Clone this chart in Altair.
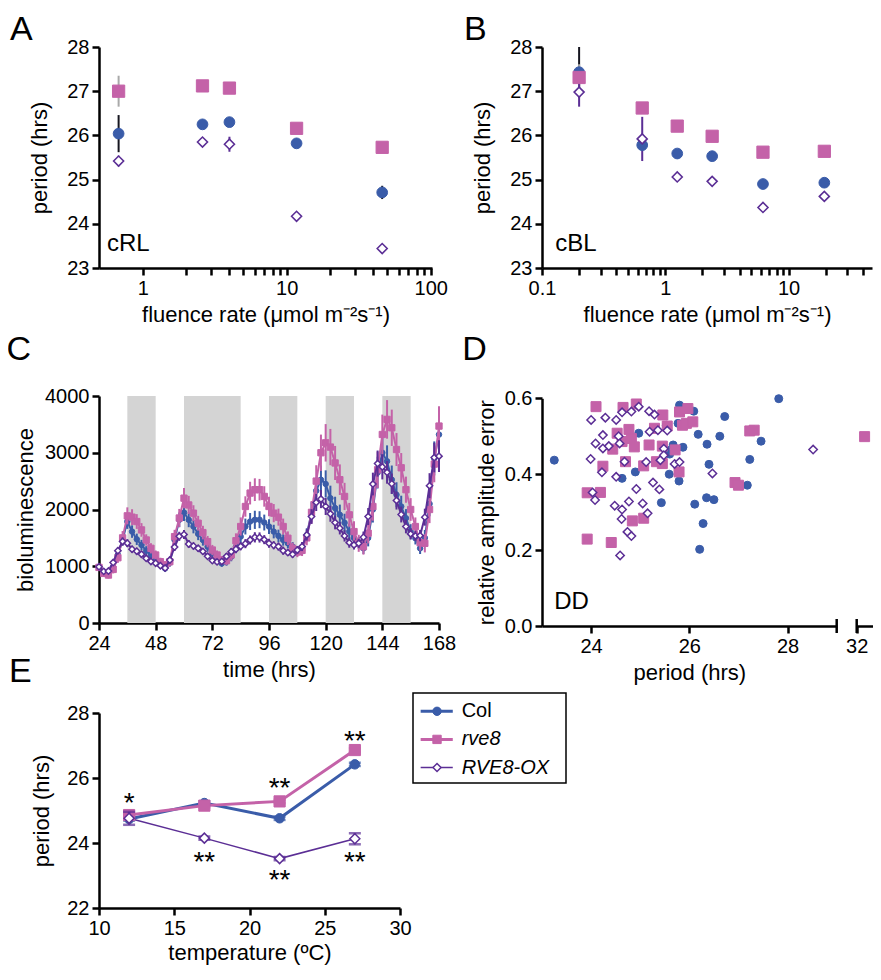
import altair as alt
import pandas as pd

FONT = "Liberation Sans"
BLUE = "#3a5ca9"
PINK = "#c462a8"
PURPLE = "#5b2e95"
BAND = "#d4d4d4"
SERIES = ["Col", "rve8", "RVE8-OX"]

# ---------------- Panel A : cRL ----------------
a_fluence = [0.68, 2.6, 4.0, 11.7, 46]
a_col = [26.04, 26.25, 26.30, 25.82, 24.71]
a_col_err = [0.42, 0.05, 0.05, 0.05, 0.15]
a_rve8 = [27.00, 27.12, 27.07, 26.16, 25.73]
a_rve8_err = [0.35, 0.10, 0.05, 0.05, 0.05]
a_ox = [25.42, 25.85, 25.80, 24.17, 23.44]
a_ox_err = [0.12, 0.05, 0.17, 0.05, 0.05]
a_ticks = [1, 2, 3, 4, 5, 6, 7, 8, 9, 10, 20, 30, 40, 50, 60, 70, 80, 90, 100]

# ---------------- Panel B : cBL ----------------
b_fluence = [0.2, 0.65, 1.25, 2.4, 6.2, 19.5]
b_col = [27.43, 25.78, 25.59, 25.53, 24.90, 24.93]
b_col_err = [0.57, 0.10, 0.05, 0.05, 0.05, 0.05]
b_rve8 = [27.31, 26.62, 26.21, 25.98, 25.62, 25.64]
b_rve8_err = [0.30, 0.05, 0.05, 0.05, 0.05, 0.05]
b_ox = [26.98, 25.92, 25.06, 24.96, 24.37, 24.62]
b_ox_err = [0.33, 0.50, 0.05, 0.05, 0.05, 0.05]
b_ticks = [0.1, 0.2, 0.3, 0.4, 0.5, 0.6, 0.7, 0.8, 0.9, 1, 2, 3, 4, 5, 6, 7, 8, 9,
           10, 20, 30, 40]
period_ticks = [23, 24, 25, 26, 27, 28]

# ---------------- Panel C : bioluminescence time course ----------------
c_time = list(range(24, 169, 2))
c_col = [980, 903, 885, 991, 1200, 1463, 1788, 1611, 1475, 1375, 1274, 1198,
         1109, 1038, 962, 1062, 1463, 1818, 1947, 1818, 1700, 1570, 1463, 1345,
         1227, 1139, 1050, 1080, 1168, 1345, 1522, 1700, 1788, 1818, 1820, 1770,
         1700, 1611, 1535, 1463, 1404, 1345, 1257, 1286, 1550, 1950, 2330, 2525,
         2450, 2200, 2025, 1906, 1765, 1611, 1500, 1404, 1316, 1500, 2000, 2650,
         3000, 2850, 2525, 2260, 2053, 1847, 1611, 1494, 1316, 1500, 2100, 2900,
         3320]
c_col_err = [50, 50, 50, 60, 80, 100, 130, 110, 100, 90, 80, 70,
             60, 60, 60, 70, 100, 130, 150, 130, 120, 110, 100, 90,
             80, 70, 60, 70, 80, 100, 120, 140, 150, 160, 150, 140,
             130, 120, 110, 100, 90, 80, 80, 90, 120, 180, 230, 250,
             240, 220, 200, 180, 160, 140, 120, 100, 100, 150, 230, 280,
             300, 280, 250, 220, 190, 160, 130, 110, 100, 140, 220, 300,
             320]
c_rve8 = [980, 874, 845, 944, 1150, 1500, 1888, 1865, 1788, 1640, 1463, 1316,
          1198, 1080, 1020, 1080, 1522, 1850, 2200, 2080, 1935, 1758, 1593, 1434,
          1286, 1198, 1109, 1100, 1200, 1450, 1700, 2053, 2289, 2349, 2349, 2230,
          2053, 1936, 1865, 1700, 1494, 1316, 1250, 1280, 1500, 1950, 2500, 3000,
          3175, 3100, 2820, 2525, 2230, 1906, 1611, 1404, 1345, 1582, 2053, 2700,
          3322, 3588, 3440, 3057, 2735, 2349, 2000, 1700, 1416, 1404, 2000, 2800,
          3470]
c_rve8_err = [60, 60, 60, 70, 90, 120, 150, 140, 130, 120, 100, 90,
              80, 70, 70, 80, 120, 160, 180, 160, 140, 130, 120, 100,
              90, 80, 70, 80, 100, 130, 160, 180, 200, 200, 190, 180,
              170, 160, 150, 140, 120, 100, 90, 100, 130, 200, 280, 320,
              330, 320, 300, 270, 240, 210, 180, 150, 140, 180, 250, 320,
              350, 340, 320, 290, 260, 230, 200, 160, 140, 160, 240, 320,
              350]
c_ox = [991, 910, 915, 1065, 1274, 1437, 1407, 1301, 1265, 1212, 1140, 1085,
        1053, 1010, 968, 1109, 1339, 1528, 1560, 1392, 1357, 1316, 1262, 1175,
        1100, 1077, 1085, 1174, 1257, 1301, 1351, 1398, 1463, 1510, 1507, 1469,
        1405, 1370, 1347, 1274, 1240, 1210, 1286, 1347, 1552, 1876, 2124, 2184,
        2053, 1924, 1770, 1670, 1535, 1416, 1375, 1404, 1511, 1876, 2449, 2809,
        2750, 2655, 2455, 2159, 1912, 1700, 1570, 1535, 1540, 1865, 2420, 2915,
        2940]
c_ox_err = [40, 40, 40, 50, 60, 70, 70, 60, 60, 60, 50, 50,
            50, 50, 50, 60, 70, 80, 80, 70, 60, 60, 60, 50,
            50, 50, 50, 60, 60, 70, 70, 80, 80, 90, 90, 80,
            80, 70, 70, 70, 60, 60, 70, 80, 100, 130, 150, 160,
            150, 140, 120, 110, 100, 90, 80, 80, 100, 150, 200, 230,
            220, 200, 180, 160, 140, 120, 100, 90, 100, 150, 220, 260,
            280]
dark_start = [36, 60, 96, 120, 144]
dark_end = [48, 84, 108, 132, 156]
c_xticks = [24, 48, 72, 96, 120, 144, 168]
c_yticks = [0, 1000, 2000, 3000, 4000]

# ---------------- Panel D : DD period vs RAE ----------------
d_col_period = [23.25, 24.63, 24.90, 24.97, 25.43, 25.52, 25.53, 25.59, 25.60, 25.67,
                25.77, 25.79, 25.80, 25.87, 26.09, 26.11, 26.18, 26.21, 26.28, 26.35,
                26.36, 26.40, 26.50, 26.62, 26.72, 27.18, 27.23, 27.46, 27.82]
d_col_rae = [0.437, 0.389, 0.406, 0.508, 0.325, 0.465, 0.529, 0.400, 0.453, 0.477,
             0.534, 0.382, 0.582, 0.471, 0.566, 0.321, 0.505, 0.202, 0.270, 0.338,
             0.479, 0.426, 0.333, 0.500, 0.552, 0.371, 0.439, 0.487, 0.599]
d_rve8_period = [23.92, 23.92, 24.10, 24.19, 24.24, 24.41, 24.44, 24.53, 24.63, 24.65,
                 24.70, 24.77, 24.82, 24.84, 24.88, 24.92, 25.07, 25.07, 25.18, 25.29,
                 25.33, 25.45, 25.45, 25.46, 25.55, 25.71, 25.79, 25.80, 25.86, 25.94,
                 25.97, 26.07, 26.93, 27.00, 27.23, 27.32, 32.16]
d_rve8_rae = [0.351, 0.229, 0.578, 0.352, 0.421, 0.220, 0.466, 0.508, 0.486, 0.576,
              0.433, 0.518, 0.494, 0.277, 0.472, 0.585, 0.284, 0.422, 0.477, 0.521,
              0.433, 0.428, 0.474, 0.556, 0.527, 0.464, 0.406, 0.564, 0.529, 0.534,
              0.573, 0.538, 0.378, 0.371, 0.514, 0.516, 0.499]
d_ox_period = [23.99, 24.00, 24.03, 24.08, 24.09, 24.22, 24.24, 24.24, 24.29, 24.36,
               24.48, 24.51, 24.51, 24.56, 24.58, 24.59, 24.62, 24.63, 24.63, 24.68,
               24.74, 24.77, 24.82, 24.82, 24.92, 24.97, 25.05, 25.12, 25.15, 25.18,
               25.19, 25.26, 25.29, 25.36, 25.39, 25.41, 25.48, 25.48, 25.55, 25.70,
               25.80, 26.47, 28.52]
d_ox_rae = [0.440, 0.543, 0.352, 0.332, 0.481, 0.405, 0.503, 0.468, 0.549, 0.474,
            0.317, 0.543, 0.393, 0.500, 0.481, 0.186, 0.282, 0.563, 0.307, 0.433,
            0.248, 0.328, 0.565, 0.237, 0.361, 0.578, 0.323, 0.432, 0.297, 0.566,
            0.512, 0.378, 0.557, 0.516, 0.360, 0.437, 0.467, 0.450, 0.515, 0.427,
            0.432, 0.402, 0.465]

# ---------------- Panel E : temperature ----------------
e_temp = [12, 17, 22, 27]
e_col = [24.74, 25.23, 24.76, 26.42]
e_col_err = [0.05, 0.05, 0.05, 0.05]
e_rve8 = [24.86, 25.15, 25.28, 26.86]
e_rve8_err = [0.05, 0.05, 0.05, 0.05]
e_ox = [24.76, 24.15, 23.52, 24.13]
e_ox_err = [0.20, 0.05, 0.05, 0.17]
e_star_x = [12, 17, 22, 22, 27, 27]
e_star_y = [25.44, 23.64, 25.92, 23.08, 27.35, 23.64]
e_star_txt = ["*", "**", "**", "**", "**", "**"]

STYLE = {
    "Col": dict(shape="circle", fill=BLUE, stroke=BLUE, line=BLUE, err="#15151f"),
    "rve8": dict(shape="square", fill=PINK, stroke=PINK, line=PINK, err="#a9a9a9"),
    "RVE8-OX": dict(shape="diamond", fill="white", stroke=PURPLE, line=PURPLE, err=PURPLE),
}


def long_df(x, groups, xname="x", yname="y"):
    rows = []
    for name, vals, errs in groups:
        for xi, v, e in zip(x, vals, errs):
            rows.append({"s": name, xname: xi, yname: v, "lo": v - e, "hi": v + e})
    return pd.DataFrame(rows)


def letter(ch, dx, dy):
    return alt.Chart(pd.DataFrame({"t": [ch]})).mark_text(
        fontSize=34, align="left", baseline="alphabetic", color="black"
    ).encode(text="t:N", x=alt.value(dx), y=alt.value(dy))


def points(df, s, X, Y, size, sw):
    st = STYLE[s]
    return alt.Chart(df).transform_filter(alt.datum.s == s).mark_point(
        shape=st["shape"], filled=True, fill=st["fill"], stroke=st["stroke"],
        strokeWidth=sw, size=size, opacity=1
    ).encode(x=X, y=Y)


def errs(df, s, X, Ylo, color, sw):
    return alt.Chart(df).transform_filter(alt.datum.s == s).mark_rule(
        color=color, strokeWidth=sw
    ).encode(x=X, y=Ylo, y2="hi:Q")


# ---------- build A / B ----------
def fluence_panel(x, groups, dom, ticks, main_ticks, label, tag_x, let, let_dx, width):
    df = long_df(x, groups)
    X = alt.X("x:Q", scale=alt.Scale(type="log", domain=dom, nice=False),
              axis=alt.Axis(values=ticks, title="fluence rate (μmol m⁻²s⁻¹)",
                            labelExpr="indexof(%s, datum.value) >= 0 ? format(datum.value, '~g') : ''" % main_ticks))

    def Y(f):
        return alt.Y(f"{f}:Q", scale=alt.Scale(domain=[23, 28], nice=False),
                     axis=alt.Axis(values=period_ticks, title="period (hrs)", titlePadding=15))
    layers = []
    for s in SERIES:
        layers.append(errs(df, s, X, Y("lo"), STYLE[s]["err"], 2))
    sizes = {"Col": 115, "rve8": 150, "RVE8-OX": 100}
    sws = {"Col": 1, "rve8": 1, "RVE8-OX": 1.6}
    for s in SERIES:
        layers.append(points(df, s, X, Y("y"), sizes[s], sws[s]))
    tag = alt.Chart(pd.DataFrame({"t": [label], "x": [tag_x], "y": [23.39]})).mark_text(
        fontSize=24, align="left", baseline="alphabetic", color="black"
    ).encode(text="t:N", x=X, y=Y("y"))
    layers.append(tag)
    layers.append(letter(let, let_dx, -7.5))
    return alt.layer(*layers).properties(width=width, height=221)


A = fluence_panel(a_fluence,
                  [("Col", a_col, a_col_err), ("rve8", a_rve8, a_rve8_err), ("RVE8-OX", a_ox, a_ox_err)],
                  [0.497, 102], a_ticks, "[1, 10, 100]", "cRL", 0.565, "A", -89, 333)
B = fluence_panel(b_fluence,
                  [("Col", b_col, b_col_err), ("rve8", b_rve8, b_rve8_err), ("RVE8-OX", b_ox, b_ox_err)],
                  [0.1, 47.5], b_ticks, "[0.1, 1, 10]", "cBL", 0.128, "B", -78, 330)

# ---------- build C ----------
c_df = long_df(c_time, [("Col", c_col, c_col_err), ("rve8", c_rve8, c_rve8_err),
                        ("RVE8-OX", c_ox, c_ox_err)], xname="t", yname="v")
c_xscale = alt.Scale(domain=[24, 168], nice=False)
c_yscale = alt.Scale(domain=[0, 4000], range=[295, 68], nice=False)
c_xaxis = alt.Axis(values=c_xticks, title="time (hrs)", format="d")
c_yaxis = alt.Axis(values=c_yticks, title="bioluminescence", format="d", titlePadding=7)
CX = alt.X("t:Q", scale=c_xscale, axis=c_xaxis)


def CY(f):
    return alt.Y(f"{f}:Q", scale=c_yscale, axis=c_yaxis)


bands = alt.Chart(pd.DataFrame({"start": dark_start, "end": dark_end})).mark_rect(
    color=BAND).encode(
    x=alt.X("start:Q", scale=c_xscale, axis=c_xaxis),
    x2="end:Q", y=alt.YDatum(0, scale=c_yscale, axis=c_yaxis),
    y2=alt.Y2Datum(4000))
c_layers = [bands]
c_size = {"Col": 30, "rve8": 40, "RVE8-OX": 40}
c_sw = {"Col": 1, "rve8": 1, "RVE8-OX": 1.5}
for s in SERIES:
    st = STYLE[s]
    c_layers.append(errs(c_df, s, CX, CY("lo"), st["line"], 2))
    c_layers.append(alt.Chart(c_df).transform_filter(alt.datum.s == s).mark_line(
        color=st["line"], strokeWidth=2).encode(x=CX, y=CY("v")))
    c_layers.append(points(c_df, s, CX, CY("v"), c_size[s], c_sw[s]))
c_layers.append(letter("C", -92.5, 32))
C = alt.layer(*c_layers).properties(width=340, height=295)

# ---------- build D (broken x axis) ----------
d_rows = []
for name, ps, rs in [("Col", d_col_period, d_col_rae), ("rve8", d_rve8_period, d_rve8_rae),
                     ("RVE8-OX", d_ox_period, d_ox_rae)]:
    for p, r in zip(ps, rs):
        d_rows.append({"s": name, "p": p, "r": r})
d_df = pd.DataFrame(d_rows)
d_main = d_df[d_df.p < 30]
d_far = d_df[d_df.p > 30]
d_yscale = alt.Scale(domain=[0, 0.6], range=[298, 70.3], nice=False)
DY = alt.Y("r:Q", scale=d_yscale,
           axis=alt.Axis(values=[0, 0.2, 0.4, 0.6], format=".1f",
                         title="relative amplitude error", titlePadding=6))
d1_xscale = alt.Scale(domain=[23, 29], range=[0, 294.7], nice=False)
d2_xscale = alt.Scale(domain=[32, 32.33], range=[314.7, 331], nice=False)
d1_axis = alt.Axis(values=[24, 26, 28], title="period (hrs)", format="d")
d2_axis = alt.Axis(values=[32], title=None, orient="bottom", format="d")
DX1 = alt.X("p:Q", scale=d1_xscale, axis=d1_axis)
DX2 = alt.X("p:Q", scale=d2_xscale, axis=d2_axis)
d_size = {"Col": 64, "rve8": 100, "RVE8-OX": 70}
d_sw = {"Col": 1, "rve8": 1, "RVE8-OX": 1.5}
d1_layers = [points(d_main, s, DX1, DY, d_size[s], d_sw[s]) for s in SERIES]
d1_layers.append(alt.Chart(pd.DataFrame({"b": [29]})).mark_rule(color="black", strokeWidth=2.5).encode(
    x=alt.X("b:Q", scale=d1_xscale, axis=d1_axis), y=alt.value(291), y2=alt.value(305)))
d1_layers.append(alt.Chart(pd.DataFrame({"t": ["DD"], "p": [23.25], "r": [0.044]})).mark_text(
    fontSize=24, align="left", baseline="alphabetic", color="black").encode(text="t:N", x=DX1, y=DY))
d1_layers.append(letter("D", -79.8, 32))
D1 = alt.layer(*d1_layers)
d2_layers = [points(d_far, "rve8", DX2, DY, d_size["rve8"], d_sw["rve8"])]
d2_layers.append(alt.Chart(pd.DataFrame({"b": [32]})).mark_rule(color="black", strokeWidth=2.5).encode(
    x=alt.X("b:Q", scale=d2_xscale, axis=d2_axis), y=alt.value(291), y2=alt.value(305)))
D2 = alt.layer(*d2_layers)
D = alt.layer(D1, D2).resolve_scale(x="independent").resolve_axis(x="independent").properties(
    width=331, height=298)

# ---------- build E ----------
e_df = long_df(e_temp, [("Col", e_col, e_col_err), ("rve8", e_rve8, e_rve8_err),
                        ("RVE8-OX", e_ox, e_ox_err)])
e_xscale = alt.Scale(domain=[10, 30], nice=False)
e_yscale = alt.Scale(domain=[22, 28], range=[222, 27], nice=False)
EX = alt.X("x:Q", scale=e_xscale,
           axis=alt.Axis(values=[10, 15, 20, 25, 30], title="temperature (ºC)", titlePadding=4))


def EY(f):
    return alt.Y(f"{f}:Q", scale=e_yscale,
                 axis=alt.Axis(values=[22, 24, 26, 28], title="period (hrs)", titlePadding=13))


e_lw = {"Col": 3, "rve8": 3, "RVE8-OX": 1.5}
e_size = {"Col": 90, "rve8": 125, "RVE8-OX": 100}
e_sw = {"Col": 1, "rve8": 1, "RVE8-OX": 1.5}
e_layers = []
for s in SERIES:
    e_layers.append(alt.Chart(e_df).transform_filter(alt.datum.s == s).mark_line(
        color=STYLE[s]["line"], strokeWidth=e_lw[s]).encode(x=EX, y=EY("y")))
for s in SERIES:
    e_layers.append(alt.Chart(e_df).transform_filter(alt.datum.s == s).mark_errorbar(
        color=STYLE[s]["line"], thickness=2.5, ticks=alt.TickConfig(size=12, thickness=2.5)
    ).encode(x=EX, y=EY("lo"), y2="hi:Q"))
    e_layers.append(points(e_df, s, EX, EY("y"), e_size[s], e_sw[s]))
e_layers.append(alt.Chart(pd.DataFrame({"x": e_star_x, "y": e_star_y, "t": e_star_txt})).mark_text(
    fontSize=28, baseline="alphabetic", dy=16, color="black").encode(x=EX, y=EY("y"), text="t:N"))
e_layers.append(letter("E", -90, -4.3))
E_data = alt.layer(*e_layers)

# legend drawn inside its own scales
leg_df = pd.DataFrame({"s": SERIES, "i": list(range(len(SERIES)))})
lx = alt.Scale(domain=[0, 1], range=[314, 467], nice=False)
ly = alt.Scale(domain=[-0.65, 2.55], range=[7, 97], nice=False)
LY = alt.Y("i:Q", scale=ly, axis=None)
leg_layers = [alt.Chart(pd.DataFrame({"k": [0]})).mark_rect(
    fillOpacity=0, stroke="black", strokeWidth=1.5).encode(
    x=alt.XDatum(0, scale=lx, axis=None), x2=alt.X2Datum(1),
    y=alt.YDatum(-0.65, scale=ly, axis=None), y2=alt.Y2Datum(2.55))]
leg_size = {"Col": 70, "rve8": 70, "RVE8-OX": 64}
for s in SERIES:
    st = STYLE[s]
    sub = alt.Chart(leg_df).transform_filter(alt.datum.s == s)
    leg_layers.append(sub.mark_rule(color=st["line"], strokeWidth=e_lw[s]).encode(
        x=alt.XDatum(0.05, scale=lx, axis=None), x2=alt.X2Datum(0.26), y=LY))
    leg_layers.append(sub.mark_point(shape=st["shape"], filled=True, fill=st["fill"],
                                     stroke=st["stroke"], strokeWidth=e_sw[s],
                                     size=leg_size[s], opacity=1).encode(
        x=alt.XDatum(0.157, scale=lx, axis=None), y=LY))
    leg_layers.append(sub.mark_text(fontSize=20, align="left", baseline="middle", color="black",
                                    fontStyle="normal" if s == "Col" else "italic").encode(
        x=alt.XDatum(0.318, scale=lx, axis=None), y=LY, text="s:N"))
E_leg = alt.layer(*leg_layers)
E = alt.layer(E_data, E_leg).resolve_scale(x="independent", y="independent").properties(
    width=301, height=222)

chart = alt.concat(A, B, C, D, E, columns=2).properties(
    spacing={"row": 60, "column": 103}, bounds="flush",
    autosize=alt.AutoSizeParams(type="none"),
    padding={"left": 91, "top": 39, "right": 774, "bottom": 919},
).configure(font=FONT).configure_view(strokeWidth=0).configure_axis(
    domainColor="black", domainWidth=2.5, tickColor="black", tickWidth=2.5, tickSize=7,
    labelFontSize=20, labelColor="black", labelFont=FONT, titleFont=FONT,
    titleFontSize=22, titleFontWeight="normal", titleColor="black", grid=False,
    labelFlush=False, labelOverlap=False, labelPadding=3,
).configure_axisX(titlePadding=6)

chart.save("out.html", embed_options={"renderer": "svg", "actions": False})
